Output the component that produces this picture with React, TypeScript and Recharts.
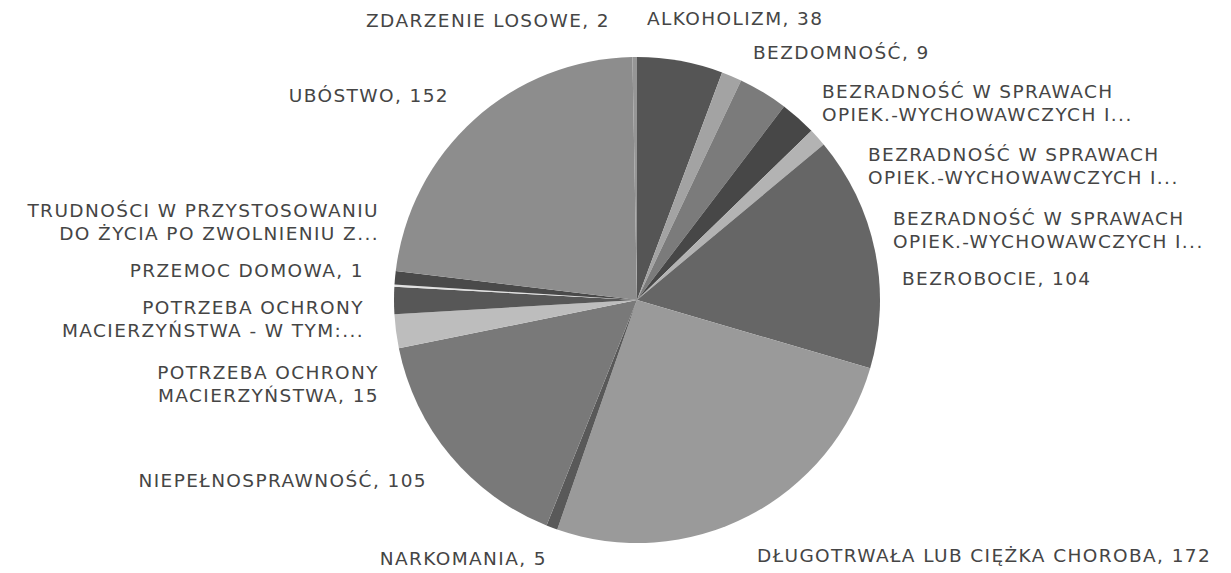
import { Cell, Pie, PieChart } from "recharts";

// slices in clockwise order from 12 o'clock
const CATEGORIES = [
  "ALKOHOLIZM",
  "BEZDOMNOŚĆ",
  "BEZRADNOŚĆ W SPRAWACH|OPIEK.-WYCHOWAWCZYCH I...",
  "BEZRADNOŚĆ W SPRAWACH|OPIEK.-WYCHOWAWCZYCH I...",
  "BEZRADNOŚĆ W SPRAWACH|OPIEK.-WYCHOWAWCZYCH I...",
  "BEZROBOCIE",
  "DŁUGOTRWAŁA LUB CIĘŻKA CHOROBA",
  "NARKOMANIA",
  "NIEPEŁNOSPRAWNOŚĆ",
  "POTRZEBA OCHRONY|MACIERZYŃSTWA",
  "POTRZEBA OCHRONY|MACIERZYŃSTWA - W TYM:...",
  "PRZEMOC DOMOWA",
  "TRUDNOŚCI W PRZYSTOSOWANIU|DO ŻYCIA PO ZWOLNIENIU Z...",
  "UBÓSTWO",
  "ZDARZENIE LOSOWE",
];
const VALUES = [38, 9, 22, 16, 8, 104, 172, 5, 105, 15, 12, 1, 6, 152, 2];
// value is printed only where the label was not truncated
const SHOW_VALUE = [true, true, false, false, false, true, true, true, true, true, false, true, false, true, true];

const FILLS = [
  "#555555", "#a3a3a3", "#7b7b7b", "#474747", "#b3b3b3",
  "#666666", "#9a9a9a", "#595959", "#797979", "#bdbdbd",
  "#575757", "#e2e2e2", "#4a4a4a", "#8d8d8d", "#969696",
];

// where each label sits (first line centre y), anchor side
const LABEL_POS: { x: number; y: number; anchor: "start" | "end" }[] = [
  { x: 647, y: 18, anchor: "start" },
  { x: 753, y: 52, anchor: "start" },
  { x: 822, y: 91, anchor: "start" },
  { x: 868, y: 154, anchor: "start" },
  { x: 893, y: 218, anchor: "start" },
  { x: 902, y: 278, anchor: "start" },
  { x: 757, y: 555, anchor: "start" },
  { x: 547, y: 558, anchor: "end" },
  { x: 427, y: 480, anchor: "end" },
  { x: 379, y: 372, anchor: "end" },
  { x: 364, y: 307, anchor: "end" },
  { x: 364, y: 270, anchor: "end" },
  { x: 379, y: 210, anchor: "end" },
  { x: 449, y: 95, anchor: "end" },
  { x: 610, y: 20, anchor: "end" },
];

const data = CATEGORIES.map((name, i) => ({ name, value: VALUES[i] }));

const TEXT = "#454545";
const FONT = "'DejaVu Sans', sans-serif";

function SliceLabel(props: any) {
  const i = props.index;
  const pos = LABEL_POS[i];
  const lines = CATEGORIES[i].split("|");
  if (SHOW_VALUE[i]) lines[lines.length - 1] += ", " + VALUES[i];
  return (
    <text
      x={pos.x}
      y={pos.y}
      textAnchor={pos.anchor}
      fill={TEXT}
      fontSize={18.5}
      letterSpacing={1.4}
      fontFamily={FONT}
      dominantBaseline="central"
    >
      {lines.map((l, k) => (
        <tspan key={k} x={pos.x} dy={k === 0 ? 0 : 23}>
          {l}
        </tspan>
      ))}
    </text>
  );
}

export default function App() {
  return (
    <div style={{ position: "absolute", left: 0, top: 0, background: "#fff" }}>
      <PieChart width={1231} height={573} margin={{ top: 0, right: 0, bottom: 0, left: 0 }}>
        <Pie
          data={data}
          dataKey="value"
          nameKey="name"
          cx={637}
          cy={300}
          outerRadius={243}
          startAngle={90}
          endAngle={-270}
          stroke="none"
          label={SliceLabel}
          labelLine={false}
          isAnimationActive={false}
        >
          {data.map((d, i) => (
            <Cell key={i} fill={FILLS[i]} />
          ))}
        </Pie>
      </PieChart>
    </div>
  );
}
